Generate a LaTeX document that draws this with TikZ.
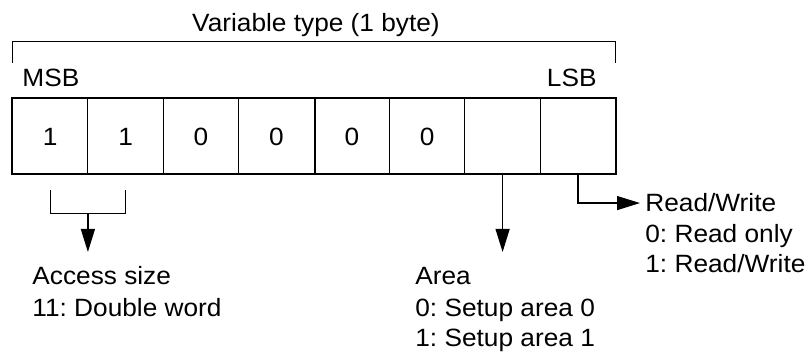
\documentclass[tikz,border=0pt]{standalone}
\usepackage{fontspec}
\setmainfont{Liberation Sans}[FakeStretch=1.05]
\usetikzlibrary{arrows.meta}
\frenchspacing
\tikzset{
  cell/.style={draw, line width=0.5pt, minimum width=37.7pt, minimum height=37.5pt, inner sep=0pt},
  lbl/.style={inner sep=0pt, anchor=base west},
  arr/.style={-{Triangle[length=11.5pt,width=7pt]}, line width=0.6pt}
}
\begin{document}
\begin{tikzpicture}[x=0.5pt, y=-0.5pt, font=\fontsize{12.5}{15}\selectfont]
    \useasboundingbox (0,0) rectangle (811,352);
    \node[inner sep=0pt, anchor=base] (title) at (316,32) {Variable type (1 byte)};
    \draw[line width=0.5pt] (12.5,63) |- (615.5,41.7) -- (615.5,63);
    \node[lbl] (msb) at (22,87) {MSB};
    \node[lbl, anchor=base east] (lsb) at (597,87) {LSB};
    \node[cell] (b1) at (50.2,136.5) {1};
    \node[cell] (b2) at (125.6,136.5) {1};
    \node[cell] (b3) at (201,136.5) {0};
    \node[cell] (b4) at (276.4,136.5) {0};
    \node[cell] (b5) at (351.8,136.5) {0};
    \node[cell] (b6) at (427.2,136.5) {0};
    \node[cell] (b7) at (502.6,136.5) {};
    \node[cell] (b8) at (578,136.5) {};
    \draw[line width=1pt] (b1.north west) rectangle (b8.south east);
    \draw[line width=1pt] (b4.north east) -- (b4.south east);
    % access size
    \draw[line width=0.5pt] ([yshift=-8pt]b1.south) -- ([yshift=-19.5pt]b1.south)
      -- coordinate (accmid) ([yshift=-19.5pt]b2.south) -- ([yshift=-8pt]b2.south);
    \coordinate (acctip) at (87.9,252);
    \draw[arr] (accmid) -- (acctip);
    \node[lbl] (acc) at (32,285) {Access size};
    \node[lbl] (acc1) at (32,317) {11: Double word};
    % area
    \coordinate (areatip) at (b7.south |- acctip);
    \draw[arr] (b7.south) -- (areatip);
    \node[lbl] (area) at (415,285) {Area};
    \node[lbl] (area0) at (415,317) {0: Setup area 0};
    \node[lbl] (area1) at (415,347) {1: Setup area 1};
    % read/write
    \node[lbl] (rw) at (645,212) {Read/Write};
    \node[lbl] (rw0) at (645,243) {0: Read only};
    \node[lbl] (rw1) at (645,273) {1: Read/Write};
    \draw[arr, shorten >=2.5pt] (b8.south) |- (rw.west);
\end{tikzpicture}
\end{document}
